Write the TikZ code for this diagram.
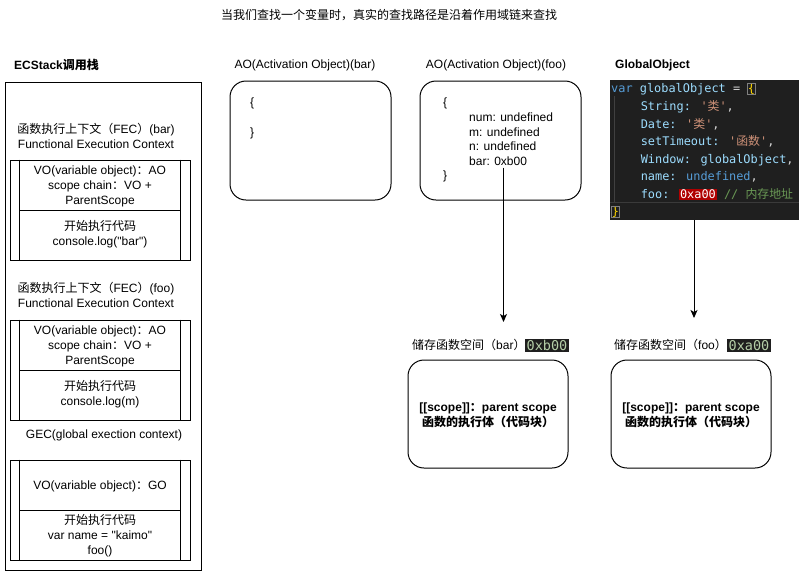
\documentclass[tikz,border=0pt]{standalone}
\usepackage{fontspec}
\setmainfont{Liberation Sans}[Ligatures=TeXOff]
\newfontfamily\cjk{Noto Sans CJK SC}
\newfontfamily\codefont{DejaVu Sans Mono}[Ligatures=TeXOff]
\usetikzlibrary{arrows.meta}
\newcommand\zh[1]{{\cjk #1}}
\definecolor{codebg}{HTML}{1F1F1F}
\definecolor{ckw}{HTML}{569CD6}
\definecolor{cvar}{HTML}{9CDCFE}
\definecolor{cstr}{HTML}{CE9178}
\definecolor{cop}{HTML}{D4D4D4}
\definecolor{cbrace}{HTML}{FFD700}
\definecolor{ccom}{HTML}{6A9955}
\definecolor{cnum}{HTML}{B5CEA8}
\definecolor{credbg}{HTML}{B00000}
\definecolor{cguide}{HTML}{404040}
\definecolor{cline}{HTML}{3A3A3A}
\tikzset{
  txt/.style={inner sep=0pt, align=center, font=\fontsize{12}{15}\selectfont},
  btxt/.style={txt, font=\fontsize{12}{15}\selectfont\bfseries},
  box/.style={draw=black, line width=1pt, inner sep=0pt},
  rbox/.style={box, rounded corners=16pt},
  arr/.style={draw=black, line width=1pt, -{Stealth[length=8pt,width=7pt,inset=2pt]}},
  codeline/.style={inner sep=0pt, anchor=base west, text=cop, font=\codefont\fontsize{11.9}{14}\selectfont},
  chip/.style={fill=codebg, text=cnum, inner xsep=1.5pt, inner ysep=1.5pt, font=\codefont\fontsize{13.5}{15}\selectfont},
}
\newcommand\bracebox[1]{{\setlength\fboxsep{0pt}\setlength\fboxrule{0.6pt}\fcolorbox{gray}{codebg}{\textcolor{cbrace}{#1}}}}
\begin{document}
\begin{tikzpicture}[x=1pt, y=-1pt]
\useasboundingbox (0,0) rectangle (799,571);
\fill[white] (0,0) rectangle (799,571);

% title
\node[txt] (title) at (389,15) {\zh{当我们查找一个变量时，真实的查找路径是沿着作用域链来查找}};

% ECStack
\node[btxt, anchor=west] (eclabel) at (14,65) {ECStack\zh{调用栈}};
\node[box, minimum width=196, minimum height=488] (ecstack) at (103,326) {};

\node[txt] (fecbarlbl) at (96,135.5) {\zh{函数执行上下文（}FEC\zh{）}(bar)\\Functional Execution Context};
\node[box, minimum width=180, minimum height=100] (fecbar) at (100,210) {};
\draw[box] ([xshift=10pt]fecbar.north west) -- ([xshift=10pt]fecbar.south west);
\draw[box] ([xshift=-10pt]fecbar.north east) -- ([xshift=-10pt]fecbar.south east);
\draw[box] ([xshift=10pt]fecbar.west) -- ([xshift=-10pt]fecbar.east);
\node[txt] (vobar) at (100,186.5) {VO(variable object)\zh{：}AO\\scope chain\zh{：}VO +\\ParentScope};
\node[txt] (runbar) at (100,234.5) {\zh{开始执行代码}\\console.log("bar")};

\node[txt] (fecfoolbl) at (96,294.5) {\zh{函数执行上下文（}FEC\zh{）}(foo)\\Functional Execution Context};
\node[box, minimum width=180, minimum height=100] (fecfoo) at (100,370) {};
\draw[box] ([xshift=10pt]fecfoo.north west) -- ([xshift=10pt]fecfoo.south west);
\draw[box] ([xshift=-10pt]fecfoo.north east) -- ([xshift=-10pt]fecfoo.south east);
\draw[box] ([xshift=10pt]fecfoo.west) -- ([xshift=-10pt]fecfoo.east);
\node[txt] (vofoo) at (100,346) {VO(variable object)\zh{：}AO\\scope chain\zh{：}VO +\\ParentScope};
\node[txt] (runfoo) at (100,394.5) {\zh{开始执行代码}\\console.log(m)};

\node[txt] (geclbl) at (104,435.5) {GEC(global exection context)};
\node[box, minimum width=180, minimum height=100] (gec) at (100,510) {};
\draw[box] ([xshift=10pt]gec.north west) -- ([xshift=10pt]gec.south west);
\draw[box] ([xshift=-10pt]gec.north east) -- ([xshift=-10pt]gec.south east);
\draw[box] ([xshift=10pt]gec.west) -- ([xshift=-10pt]gec.east);
\node[txt] (vogec) at (100,486) {VO(variable object)\zh{：}GO};
\node[txt] (rungec) at (100,536) {\zh{开始执行代码}\\var name = "kaimo"\\foo()};

% AO bar
\node[txt] (aobarlbl) at (305,65) {AO(Activation Object)(bar)};
\node[rbox, minimum width=161, minimum height=119] (aobar) at (310.5,140.5) {};
\node[txt, anchor=west] (aobaropen) at (250,103) {\{};
\node[txt, anchor=west] (aobarclose) at (250,133) {\}};

% AO foo
\node[txt] (aofoolbl) at (496,65) {AO(Activation Object)(foo)};
\node[rbox, minimum width=161, minimum height=119] (aofoo) at (500.5,140.5) {};
\node[txt, anchor=west] (aofooopen) at (443,103) {\{};
\node[txt, anchor=west] (foonum) at (469,117.5) {num: undefined};
\node[txt, anchor=west] (foom) at (469,132) {m: undefined};
\node[txt, anchor=west] (foon) at (469,146.5) {n: undefined};
\node[txt, anchor=west] (foobar) at (469,161) {bar: 0xb00};
\node[txt, anchor=west] (aofooclose) at (443,176) {\}};

% GlobalObject
\node[btxt, anchor=west] (golbl) at (615,65) {GlobalObject};
\node[fill=codebg, inner sep=0pt, minimum width=189, minimum height=140, anchor=north west] (globj) at (610,80) {};
\draw[cguide, line width=0.6pt] (614,96) -- (614,202);
\draw[cline, line width=0.8pt] (610,202.5) -- (799,202.5);
\node[codeline] (cl1) at (611,92.5) {\textcolor{ckw}{var} \textcolor{cvar}{globalObject} = \bracebox{\{}};
\node[codeline] (cl2) at (640.6,110.5) {\textcolor{cvar}{String:} \textcolor{cstr}{'\zh{类}'},};
\node[codeline] (cl3) at (640.6,128) {\textcolor{cvar}{Date:} \textcolor{cstr}{'\zh{类}'},};
\node[codeline] (cl4) at (640.6,145.5) {\textcolor{cvar}{setTimeout:} \textcolor{cstr}{'\zh{函数}'},};
\node[codeline] (cl5) at (640.6,163.5) {\textcolor{cvar}{Window:} \textcolor{cvar}{globalObject},};
\node[codeline] (cl6) at (640.6,180.5) {\textcolor{cvar}{name:} \textcolor{ckw}{undefined},};
\node[codeline] (cl7) at (640.6,198.5) {\textcolor{cvar}{foo:} {\setlength\fboxsep{1pt}\colorbox{credbg}{\textcolor{white}{0xa00}}} \textcolor{ccom}{// \zh{内存地址}}};
\node[codeline] (cl8) at (611,215.5) {\bracebox{\}}};

% storage spaces
\node[txt, anchor=west] (lblbar) at (412,345) {\zh{储存函数空间（}bar\zh{）}};
\node[chip, anchor=east] (chipbar) at (569,345.5) {0xb00};
\node[rbox, minimum width=160, minimum height=108] (fbar) at (488,414) {};
\node[btxt] (fbartxt) at (488,415.5) {[[scope]]\zh{：}parent scope\\\zh{函数的执行体（代码块）}};

\node[txt, anchor=west] (lblfoo) at (614,345) {\zh{储存函数空间（}foo\zh{）}};
\node[chip, anchor=east] (chipfoo) at (771,345.5) {0xa00};
\node[rbox, minimum width=160, minimum height=108] (ffoo) at (691,414) {};
\node[btxt] (ffootxt) at (691,415.5) {[[scope]]\zh{：}parent scope\\\zh{函数的执行体（代码块）}};

% arrows
\coordinate (a1end) at (503.5,322);
\draw[arr] ([yshift=-2pt]foobar.south -| a1end) -- (a1end);
\coordinate (a2end) at (694,318);
\draw[arr] (globj.south -| a2end) -- (a2end);
\end{tikzpicture}
\end{document}
